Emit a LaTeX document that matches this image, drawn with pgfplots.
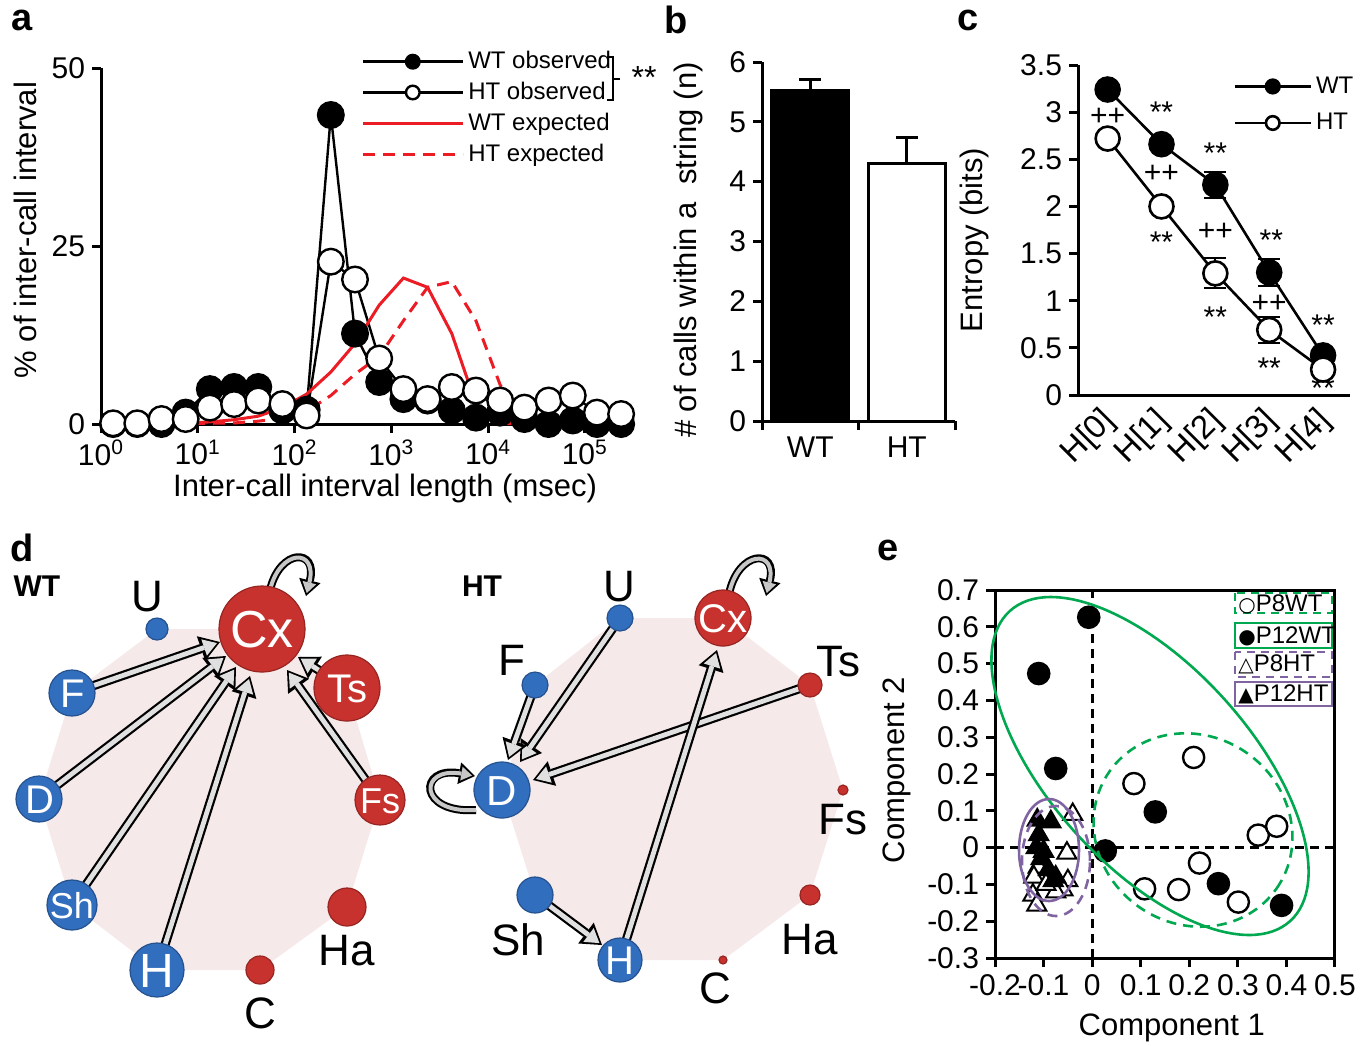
\documentclass[border=0pt]{standalone}
\usepackage{fontspec}
\setmainfont{Liberation Sans}
\newfontfamily\symfont{DejaVu Sans}
\usepackage{pgfplots}
\usepackage{pgfplotstable}
\pgfplotsset{compat=1.18}
\usetikzlibrary{arrows.meta}

\definecolor{xred}{RGB}{236,28,36}
\definecolor{ndblue}{RGB}{50,110,190}
\definecolor{ndred}{RGB}{200,50,46}
\definecolor{pinkbg}{RGB}{246,233,233}
\definecolor{egreen}{RGB}{0,168,80}
\definecolor{epurple}{RGB}{128,100,162}

\newcommand{\fsz}[1]{\fontsize{#1}{#1}\selectfont}

\tikzset{
  aout/.style={line width=4.6pt, black, -{Triangle[length=10pt,width=13pt,line width=0pt]}},
  ain/.style={line width=2.4pt, black!12, shorten >=1.6pt, -{Triangle[length=6.8pt,width=8.6pt,line width=0pt]}},
  sout/.style={line width=4pt, black, -{Triangle[length=8pt,width=11pt,line width=0pt]}},
  sin/.style={line width=2pt, black!22, shorten >=1.5pt, -{Triangle[length=5.4pt,width=7pt,line width=0pt]}},
}
\pgfplotsset{
  panel/.style={scale only axis, clip=false, axis lines=left,
    axis line style={-, line width=1.5pt}, tick style={black, line width=1.5pt},
    tick align=outside, major tick length=4.5pt,
    tick label style={font=\fsz{15}}, label style={font=\fsz{15.5}},
    /pgf/number format/assume math mode=true},
  lgd/.style={legend style={draw=none, fill=none, font=\fsz{12}, row sep=1.2pt},
    legend cell align=left, legend image post style={mark size=3.4pt}},
  ebar/.style 2 args={error bars/.cd, y dir=#2, y explicit, error bar style={line width=#1},
    error mark=-, error mark options={rotate=90, line width=#1, mark size=5.5pt}},
}
\newcommand{\darrow}[4]{%
  \addplot[aout] coordinates {(#1,#2)(#3,#4)};
  \addplot[ain] coordinates {(#1,#2)(#3,#4)};}

% panel a: inter-call interval histogram
\pgfplotstableread{
x wto hto wte hte
1.334 0 0.1 0 0
2.371 0 0.1 0 0
4.217 0 0.7 0.05 0
7.499 1.6 0.7 0.1 0.05
13.34 4.9 2.3 0.3 0.1
23.71 5.2 2.8 0.6 0.15
42.17 5.2 3.3 1.1 0.4
74.99 1.9 2.8 2.3 0.8
133.4 2.0 1.2 4.2 1.8
237.1 43.4 22.8 7.3 4.0
421.7 12.7 20.3 11.3 7.0
749.9 5.9 9.2 16.7 9.5
1334 3.5 4.9 20.5 14.5
2371 3.3 3.5 19.2 19.2
4217 1.9 5.2 12.7 20.0
7499 0.9 4.7 2.8 14.5
13335 1.6 3.3 0.1 5.5
23714 0.7 2.3 0 0.3
42170 0 3.3 0 0
74989 0.5 4.0 0 0
133352 0 1.6 0 0
237137 0 1.4 0 0
}\icitab

\begin{document}
\begin{tikzpicture}
\path[use as bounding box] (0pt,0pt) rectangle (685pt,-522.5pt);

% ---------------- a
\begin{axis}[panel, lgd, at={(50.5pt,-212pt)}, anchor=south west, width=265pt, height=178pt,
  xmode=log, xmin=1, xmax=3e5, ymin=0, ymax=50, xminorticks=false,
  xtick={1,10,100,1000,10000,100000},
  xticklabels={10\textsuperscript{0},10\textsuperscript{1},10\textsuperscript{2},10\textsuperscript{3},10\textsuperscript{4},10\textsuperscript{5}},
  ytick={0,25,50},
  xlabel={Inter-call interval length (msec)}, ylabel={\% of inter-call interval},
  xlabel style={at={(axis description cs:0.536,-0.18)}, anchor=center},
  ylabel style={at={(axis description cs:-0.143,0.545)}, anchor=center},
  legend style={at={(0.479,1.07)}, anchor=north west},
  legend image code/.code={\draw[mark repeat=2,mark phase=2,#1] plot coordinates {(0pt,0pt)(25pt,0pt)(50pt,0pt)};}]
\addplot[black, line width=1.2pt, mark=*, mark size=6.4pt, mark options={fill=black}] table[x=x,y=wto] {\icitab};
\addlegendentry{WT observed}
\addplot[black, line width=1.2pt, mark=*, mark size=6.4pt, mark options={fill=white}] table[x=x,y=hto] {\icitab};
\addlegendentry{HT observed}
\addplot[xred, line width=1.5pt] table[x=x,y=wte] {\icitab};
\addlegendentry{WT expected}
\addplot[xred, line width=1.5pt, dash pattern=on 6pt off 4pt] table[x=x,y=hte] {\icitab};
\addlegendentry{HT expected}
\end{axis}
\draw[line width=1pt] (303.5pt,-28.5pt) -- (306.5pt,-28.5pt) -- (306.5pt,-50pt) -- (303.5pt,-50pt)
  (306.5pt,-39.5pt) -- (310pt,-39.5pt);
\node[font=\fsz{16}] at (322pt,-38.5pt) {**};

% ---------------- b
\begin{axis}[panel, at={(381pt,-210.5pt)}, anchor=south west, width=96.5pt, height=179.5pt,
  xmin=0.5, xmax=2.5, ymin=0, ymax=6, xtick={0.5,1.5,2.5}, xticklabels={},
  ytick={0,1,...,6},
  ylabel={\# of calls within a\ \ string (n)},
  ylabel style={at={(axis description cs:-0.383,0.476)}, anchor=center}]
\addplot[ybar, bar width=0.8, bar shift=0pt, fill=black, draw=black, line width=1.5pt,
  ebar={1.5pt}{plus}]
  coordinates {(1,5.53) +- (0,0.17)};
\addplot[ybar, bar width=0.8, bar shift=0pt, fill=white, draw=black, line width=1.5pt,
  ebar={1.5pt}{plus}]
  coordinates {(2,4.31) +- (0,0.42)};
\node[font=\fsz{15}] at (axis cs:1,-0.44) {WT};
\node[font=\fsz{15}] at (axis cs:2,-0.44) {HT};
\end{axis}

% ---------------- c
\begin{axis}[panel, lgd, at={(539pt,-197.5pt)}, anchor=south west, width=136pt, height=165pt,
  xmin=-0.55, xmax=4.5, ymin=0, ymax=3.5, xtick=\empty,
  ytick={0,0.5,...,3.5},
  ylabel={Entropy (bits)},
  ylabel style={at={(axis description cs:-0.379,0.47)}, anchor=center},
  legend style={at={(0.548,0.99)}, anchor=north west, row sep=4.5pt},
  legend image code/.code={\draw[mark repeat=2,mark phase=2,#1] plot coordinates {(0pt,0pt)(19pt,0pt)(38pt,0pt)};}]
\addplot[black, line width=1.3pt, mark=*, mark size=6pt, mark options={fill=black},
  ebar={1pt}{both}]
  coordinates {(0,3.24) +- (0,0.04) (1,2.66) +- (0,0.05) (2,2.23) +- (0,0.14) (3,1.30) +- (0,0.14) (4,0.42) +- (0,0.05)};
\addlegendentry{WT}
\addplot[black, line width=1.3pt, mark=*, mark size=6pt, mark options={fill=white},
  ebar={1pt}{both}]
  coordinates {(0,2.72) +- (0,0.04) (1,2.00) +- (0,0.05) (2,1.29) +- (0,0.16) (3,0.69) +- (0,0.14) (4,0.27) +- (0,0.04)};
\addlegendentry{HT}
\foreach \i in {0,...,4}{
  \edef\tmp{\noexpand\node[rotate=45, anchor=east, font=\noexpand\fsz{16.5}, inner sep=1pt] at (axis cs:\i+0.08,-0.2) {H[\i]};}\tmp
}
\begin{scope}[font=\fsz{15}]
\node at (axis cs:0,2.95) {++};
\node at (axis cs:1,3.0) {**};
\node at (axis cs:1,2.35) {++};
\node at (axis cs:1,1.62) {**};
\node at (axis cs:2,2.56) {**};
\node at (axis cs:2,1.73) {++};
\node at (axis cs:2,0.83) {**};
\node at (axis cs:3.04,1.64) {**};
\node at (axis cs:3,0.97) {++};
\node at (axis cs:3,0.28) {**};
\node at (axis cs:4,0.74) {**};
\node at (axis cs:4,0.07) {**};
\end{scope}
\end{axis}

% ---------------- d (networks)
\begin{axis}[at={(0pt,-522.5pt)}, anchor=south west, scale only axis, width=440pt, height=252.5pt,
  xmin=0, xmax=880, ymin=540, ymax=1045, y dir=reverse, hide axis, clip=false]
% background polygons
\addplot[fill=pinkbg, draw=none] coordinates {(157,629)(262,629)(347,688)(380,800)(347,907)(260,970)(157,970)(72,905)(39,799)(72,693)} -- cycle;
\addplot[fill=pinkbg, draw=none] coordinates {(620,618)(723,618)(810,685)(843,790)(810,895)(723,960)(620,960)(535,895)(502,790)(535,685)} -- cycle;
% WT transitions
\darrow{72}{693}{220}{642}
\darrow{39}{799}{226}{656}
\darrow{72}{905}{236}{667}
\darrow{157}{970}{250}{676}
\darrow{380}{800}{287}{670}
\darrow{347}{688}{298}{657}
\draw[sout] (axis cs:270,590) .. controls (axis cs:280,548) and (axis cs:318,548) .. (axis cs:306,596);
\draw[sin] (axis cs:270,590) .. controls (axis cs:280,548) and (axis cs:318,548) .. (axis cs:306,596);
% HT transitions
\darrow{620}{618}{520}{762}
\darrow{535}{685}{508}{760}
\darrow{810}{685}{533}{780}
\darrow{620}{960}{717}{650}
\darrow{535}{895}{602}{945}
\draw[sout] (axis cs:729,594) .. controls (axis cs:738,550) and (axis cs:778,548) .. (axis cs:766,596);
\draw[sin] (axis cs:729,594) .. controls (axis cs:738,550) and (axis cs:778,548) .. (axis cs:766,596);
\draw[sout] (axis cs:476,810) .. controls (axis cs:418,814) and (axis cs:418,766) .. (axis cs:475,776);
\draw[sin] (axis cs:476,810) .. controls (axis cs:418,814) and (axis cs:418,766) .. (axis cs:475,776);
% nodes (radius in pt)
\addplot[scatter, only marks, mark=*, point meta=\thisrow{r},
  scatter/use mapped color={draw=ndblue!75!black, fill=ndblue}, line width=0.6pt,
  visualization depends on={\thisrow{r}\as\rr},
  scatter/@pre marker code/.append style={/tikz/mark size=\rr}]
  table {
x y r
157 629 5.5
72 693 11.5
39 799 11.5
72 905 12.5
157 970 13.5
620 618 6.5
535 685 6.5
502 790 14
535 895 9
620 960 11
};
\addplot[scatter, only marks, mark=*, point meta=\thisrow{r},
  scatter/use mapped color={draw=ndred!75!black, fill=ndred}, line width=0.6pt,
  visualization depends on={\thisrow{r}\as\rr},
  scatter/@pre marker code/.append style={/tikz/mark size=\rr}]
  table {
x y r
262 629 21.5
347 688 16.5
380 800 12.5
347 907 9.5
260 970 7
723 618 14
810 685 6
843 790 2.5
810 895 5
723 960 2
};
% outside labels
\node[font=\fsz{22}] at (axis cs:147,597) {U};
\node[font=\fsz{22}] at (axis cs:347,951) {Ha};
\node[font=\fsz{22}] at (axis cs:260,1013) {C};
\node[font=\fsz{22}] at (axis cs:619,587) {U};
\node[font=\fsz{22}] at (axis cs:838,662) {Ts};
\node[font=\fsz{22}] at (axis cs:843,820) {Fs};
\node[font=\fsz{22}] at (axis cs:810,940) {Ha};
\node[font=\fsz{22}] at (axis cs:715,988) {C};
\node[font=\fsz{22}] at (axis cs:518,940) {Sh};
\node[font=\fsz{22}] at (axis cs:512,660) {F};
\end{axis}
% labels inside the nodes (same scale as panel d: 1 px = 0.5pt)
\begin{scope}[text=white]
\node[font=\fsz{26}] at (131pt,-315pt) {Cx};
\node[font=\fsz{20}] at (173.5pt,-344.5pt) {Ts};
\node[font=\fsz{18}] at (190pt,-400.5pt) {Fs};
\node[font=\fsz{24}] at (78.5pt,-485.5pt) {H};
\node[font=\fsz{18}] at (36pt,-453pt) {Sh};
\node[font=\fsz{20}] at (20pt,-400pt) {D};
\node[font=\fsz{20}] at (36.5pt,-347pt) {F};
\node[font=\fsz{20}] at (361.5pt,-309.5pt) {Cx};
\node[font=\fsz{20}] at (310pt,-480.5pt) {H};
\node[font=\fsz{21}] at (251pt,-395.5pt) {D};
\end{scope}

% ---------------- e
\begin{axis}[panel, axis lines=box, xtick pos=left, ytick pos=left,
  label style={font=\fsz{15.5}},
  at={(497.5pt,-479pt)}, anchor=south west, width=170pt, height=184pt,
  xmin=-0.2, xmax=0.5, ymin=-0.3, ymax=0.7,
  xtick={-0.2,-0.1,0,0.1,0.2,0.3,0.4,0.5},
  ytick={-0.3,-0.2,-0.1,0,0.1,0.2,0.3,0.4,0.5,0.6,0.7},
  xlabel={Component 1}, ylabel={Component 2},
  xlabel style={at={(axis description cs:0.52,-0.19)}, anchor=center},
  ylabel style={at={(axis description cs:-0.288,0.511)}, anchor=center}]
\addplot[black, line width=1.5pt, dash pattern=on 4.5pt off 3pt] coordinates {(0,-0.3)(0,0.7)};
\addplot[black, line width=1.5pt, dash pattern=on 4.5pt off 3pt] coordinates {(-0.2,0)(0.5,0)};
% P8HT
\addplot[only marks, mark=triangle*, mark size=5.5pt, black, line width=1pt, mark options={fill=white}]
  coordinates {(-0.04,0.09)(-0.052,-0.015)(-0.111,-0.053)(-0.05,-0.09)(-0.122,-0.129)(-0.114,-0.156)(-0.06,-0.115)(-0.075,-0.12)(-0.12,-0.08)(-0.095,-0.1)};
% P12HT
\addplot[only marks, mark=triangle*, mark size=5.5pt, black, line width=1pt, mark options={fill=black}]
  coordinates {(-0.113,0.075)(-0.085,0.07)(-0.11,0.035)(-0.115,0.0)(-0.105,-0.03)(-0.09,-0.06)(-0.075,-0.08)(-0.1,-0.01)(-0.08,-0.09)};
% P8WT
\addplot[only marks, mark=*, mark size=5.3pt, black, line width=1.2pt, mark options={fill=white}]
  coordinates {(0.209,0.245)(0.086,0.174)(0.342,0.034)(0.380,0.058)(0.221,-0.042)(0.108,-0.112)(0.178,-0.114)(0.301,-0.148)};
% P12WT
\addplot[only marks, mark=*, mark size=5.3pt, black, line width=1.2pt, mark options={fill=black}]
  coordinates {(-0.007,0.626)(-0.11,0.473)(-0.075,0.215)(0.13,0.097)(0.027,-0.009)(0.26,-0.098)(0.39,-0.157)};
\end{axis}
% group ellipses
\draw[egreen, line width=1.3pt, rotate around={-47.9:(575pt,-383pt)}] (575pt,-383pt) ellipse [x radius=104.5pt, y radius=50pt];
\draw[egreen, line width=1.3pt, dash pattern=on 5pt off 3.5pt, rotate around={-35:(596.5pt,-415pt)}] (596.5pt,-415pt) ellipse [x radius=51pt, y radius=47pt];
\draw[epurple, line width=1.3pt] (524.5pt,-425pt) ellipse [x radius=15pt, y radius=25.5pt];
\draw[epurple, line width=1.3pt, dash pattern=on 5pt off 3.5pt] (528pt,-430.5pt) ellipse [x radius=17pt, y radius=27.5pt];
% legend of e
\draw[egreen, line width=1.2pt, dash pattern=on 4pt off 3pt] (617.5pt,-296.5pt) rectangle (666pt,-306.5pt);
\draw[egreen, line width=1.2pt] (617.5pt,-311.5pt) rectangle (666pt,-324pt);
\draw[epurple, line width=1.2pt, dash pattern=on 4pt off 3pt] (617.5pt,-326pt) rectangle (666pt,-338.5pt);
\draw[epurple, line width=1.2pt] (617.5pt,-341pt) rectangle (666pt,-353pt);
\node[anchor=west, inner sep=0pt, font=\fsz{12}] at (619pt,-302pt) {{\symfont\fsz{10}○}P8WT};
\node[anchor=west, inner sep=0pt, font=\fsz{12}] at (619pt,-318pt) {{\symfont\fsz{10}●}P12WT};
\node[anchor=west, inner sep=0pt, font=\fsz{12}] at (619pt,-332pt) {{\symfont\fsz{10}△}P8HT};
\node[anchor=west, inner sep=0pt, font=\fsz{12}] at (619pt,-347pt) {{\symfont\fsz{10}▲}P12HT};

% panel letters
\node[font=\bfseries\fsz{19}] at (11pt,-10pt) {a};
\node[font=\bfseries\fsz{19}] at (338pt,-10pt) {b};
\node[font=\bfseries\fsz{19}] at (484pt,-10pt) {c};
\node[font=\bfseries\fsz{19}] at (11pt,-274pt) {d};
\node[font=\bfseries\fsz{19}] at (444pt,-275pt) {e};
\node[font=\bfseries\fsz{15}] at (18.5pt,-293pt) {WT};
\node[font=\bfseries\fsz{15}] at (241pt,-293pt) {HT};
\end{tikzpicture}
\end{document}
